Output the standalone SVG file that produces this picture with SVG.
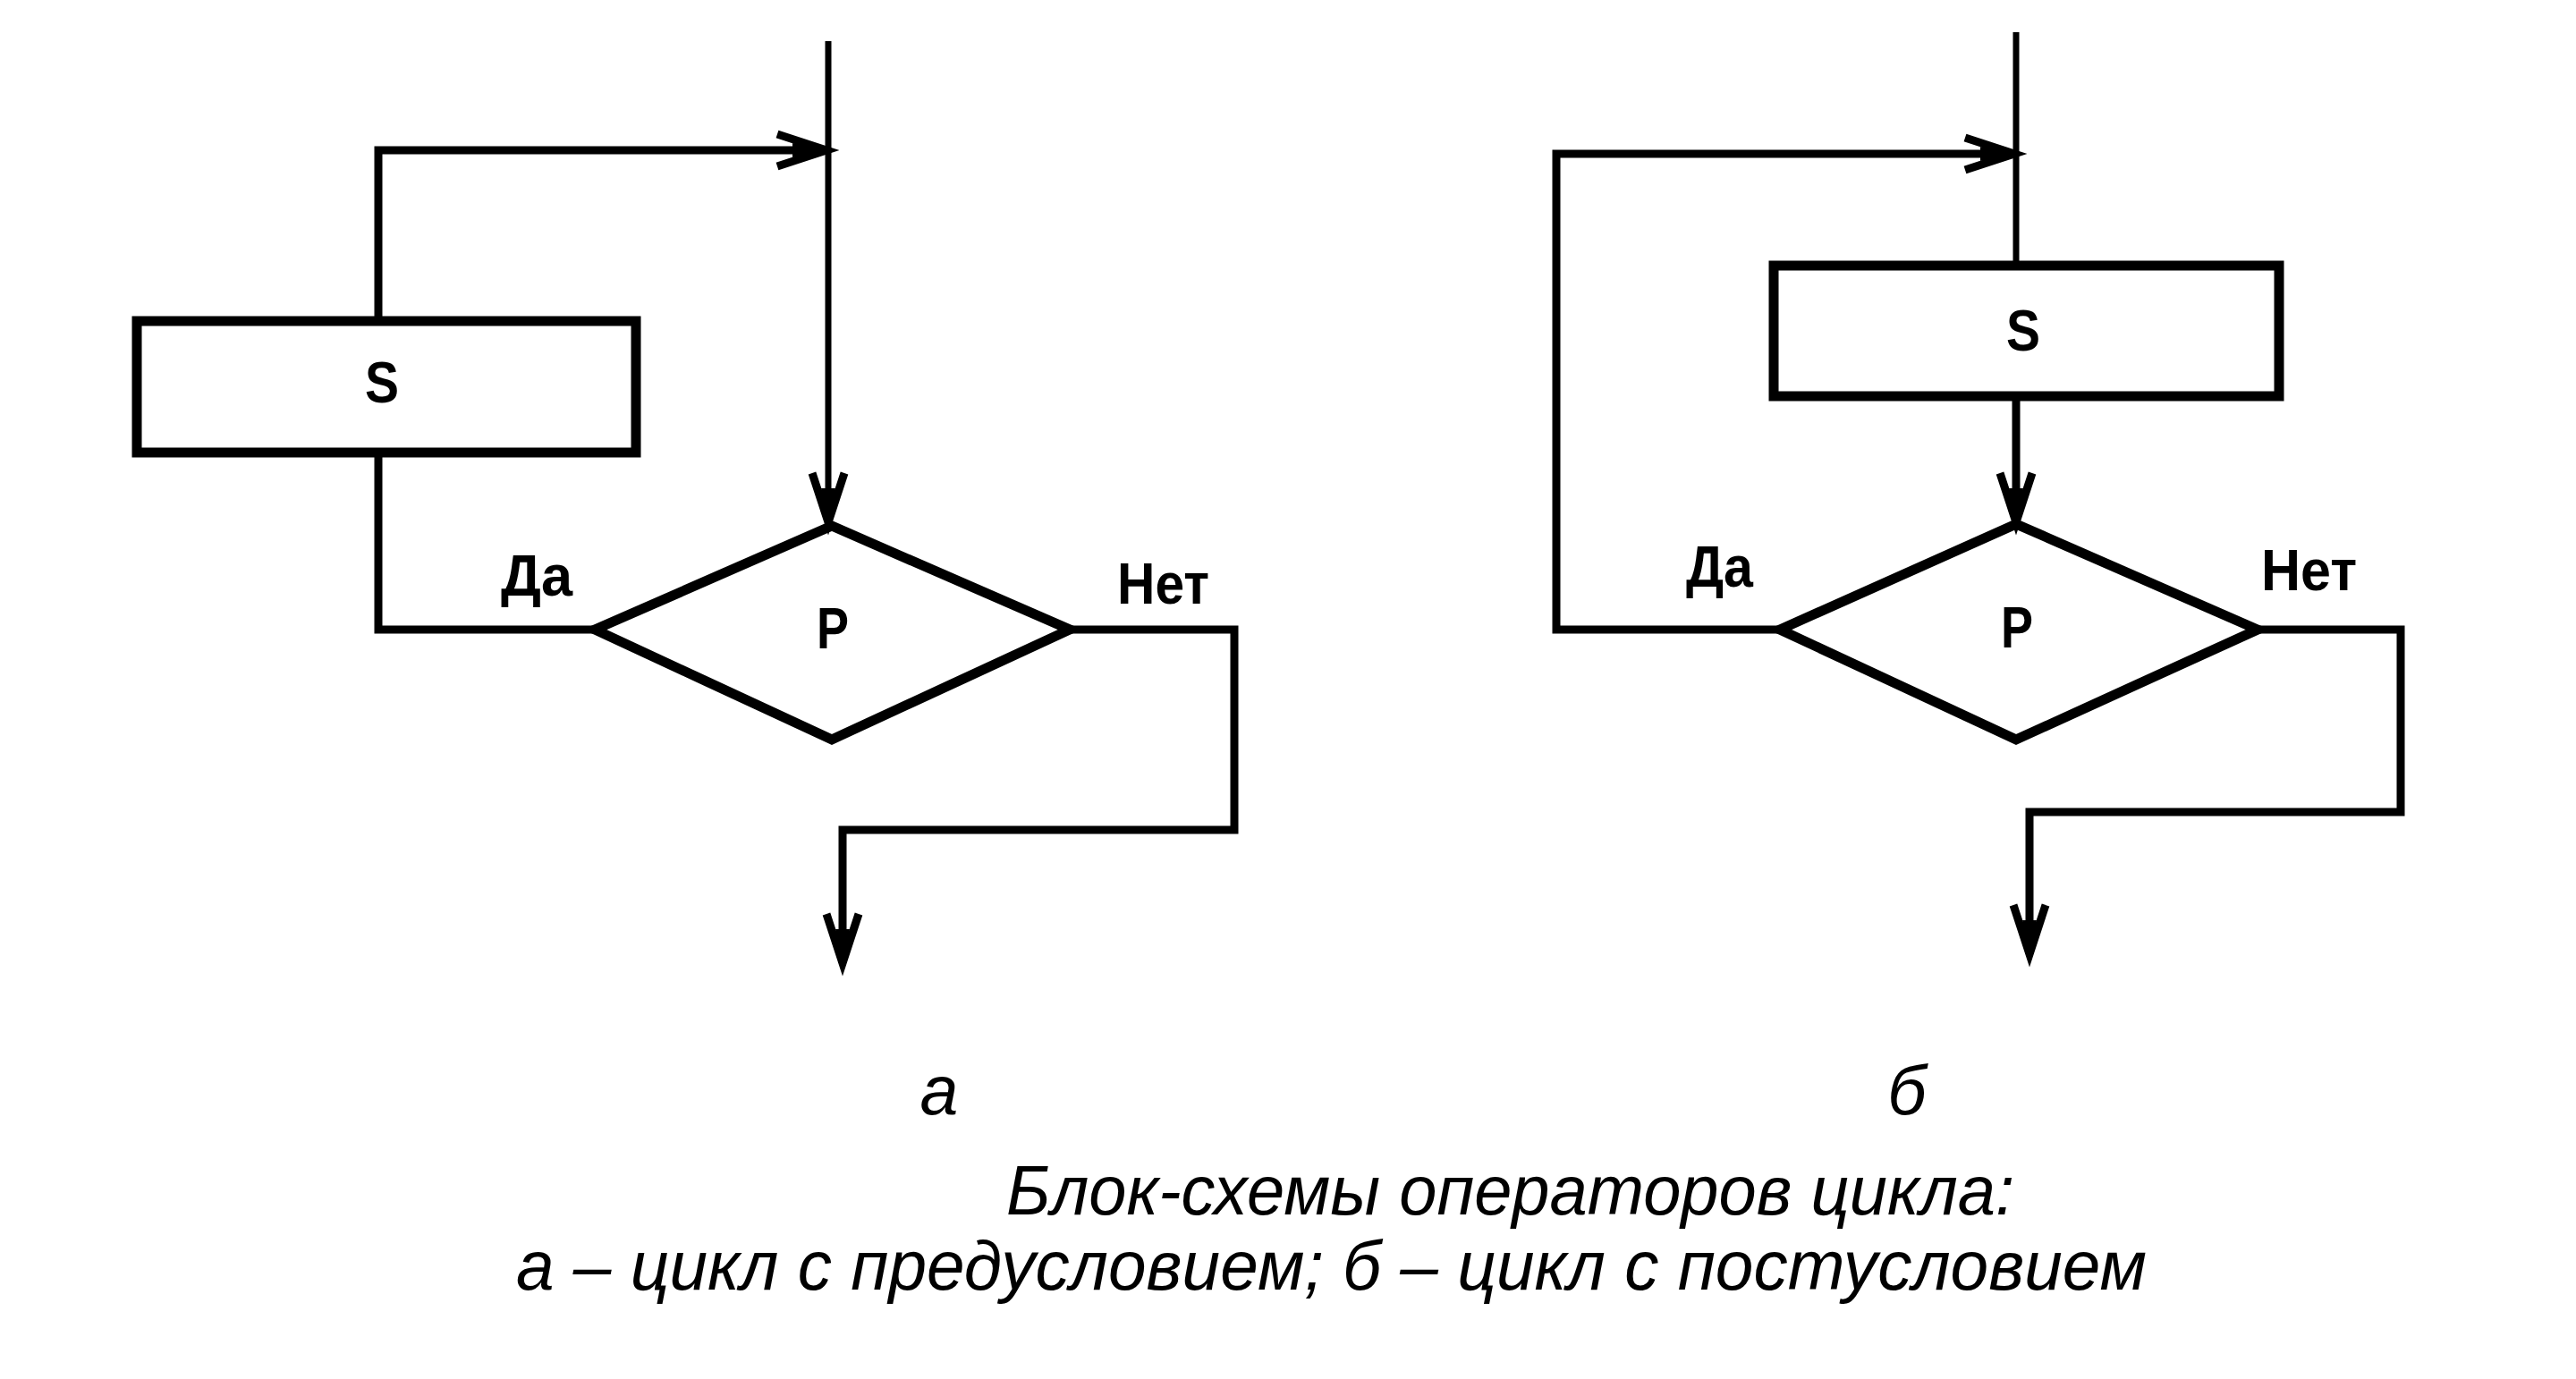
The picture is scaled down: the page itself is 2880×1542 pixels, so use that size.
<svg xmlns="http://www.w3.org/2000/svg" width="2880" height="1542" viewBox="0 0 2880 1542">
<style>
.shape{fill:none;stroke:#000;stroke-width:11;stroke-linejoin:miter}
.conn{fill:none;stroke:#000;stroke-width:9;stroke-linejoin:miter}
.thin{stroke-width:7}
.lbl{font-family:"Liberation Sans","Noto Sans",sans-serif;font-size:64px;font-weight:bold;fill:#000}
.cap{font-family:"Liberation Sans","Noto Sans",sans-serif;font-size:77px;font-style:italic;fill:#000}
</style>
<defs>
<marker id="arr" viewBox="-66 -30 72 60" markerWidth="72" markerHeight="60" refX="0" refY="0" orient="auto" markerUnits="userSpaceOnUse" overflow="visible">
<path d="M-55,-18 L0,0 L-55,18" fill="none" stroke="#000" stroke-width="9" stroke-linejoin="miter"/>
<path d="M-38,-8 L0,0 L-38,8 Z" fill="#000"/>
</marker>
</defs>
<rect width="2880" height="1542" fill="#fff"/>
<g id="connectors">
<path class="conn thin" d="M926,46 L926,584" marker-end="url(#arr)"/>
<path class="conn" d="M423,359 L423,168 L924,168" marker-end="url(#arr)"/>
<path class="conn" d="M423,506 L423,704 L665,704"/>
<path class="conn" d="M1196,704 L1380,704 L1380,928 L942,928 L942,1077" marker-end="url(#arr)"/>
<path class="conn thin" d="M2254,36 L2254,297"/>
<path class="conn" d="M1990,704 L1740,704 L1740,172 L2252,172" marker-end="url(#arr)"/>
<path class="conn" d="M2254,443 L2254,584" marker-end="url(#arr)"/>
<path class="conn" d="M2524,704 L2684,704 L2684,908 L2269,908 L2269,1067" marker-end="url(#arr)"/>
</g>
<g id="a-S">
<rect class="shape" x="153" y="359" width="558" height="147"/>
<text class="lbl" x="427" y="450" text-anchor="middle" textLength="38" lengthAdjust="spacingAndGlyphs">S</text>
</g>
<g id="a-P">
<polygon class="shape" points="665,704 930,588 1196,704 930,827"/>
<text class="lbl" x="931" y="725" text-anchor="middle" textLength="36" lengthAdjust="spacingAndGlyphs">P</text>
<text class="lbl" x="560" y="666" textLength="80" lengthAdjust="spacingAndGlyphs">Да</text>
<text class="lbl" x="1249" y="675" textLength="103" lengthAdjust="spacingAndGlyphs">Нет</text>
</g>
<g id="b-S">
<rect class="shape" x="1983" y="297" width="565" height="146"/>
<text class="lbl" x="2262" y="392" text-anchor="middle" textLength="38" lengthAdjust="spacingAndGlyphs">S</text>
</g>
<g id="b-P">
<polygon class="shape" points="1990,704 2254,586 2524,704 2254,827"/>
<text class="lbl" x="2255" y="724" text-anchor="middle" textLength="36" lengthAdjust="spacingAndGlyphs">P</text>
<text class="lbl" x="1885" y="656" textLength="75" lengthAdjust="spacingAndGlyphs">Да</text>
<text class="lbl" x="2528" y="660" textLength="107" lengthAdjust="spacingAndGlyphs">Нет</text>
</g>
<g id="captions">
<text class="cap" x="1050" y="1246" text-anchor="middle">а</text>
<text class="cap" x="2132" y="1246" text-anchor="middle">б</text>
<text class="cap" x="1125" y="1358" textLength="1127" lengthAdjust="spacingAndGlyphs">Блок-схемы операторов цикла:</text>
<text class="cap" x="577" y="1442" textLength="1823" lengthAdjust="spacingAndGlyphs">а – цикл с предусловием; б – цикл с постусловием</text>
</g>
</svg>
